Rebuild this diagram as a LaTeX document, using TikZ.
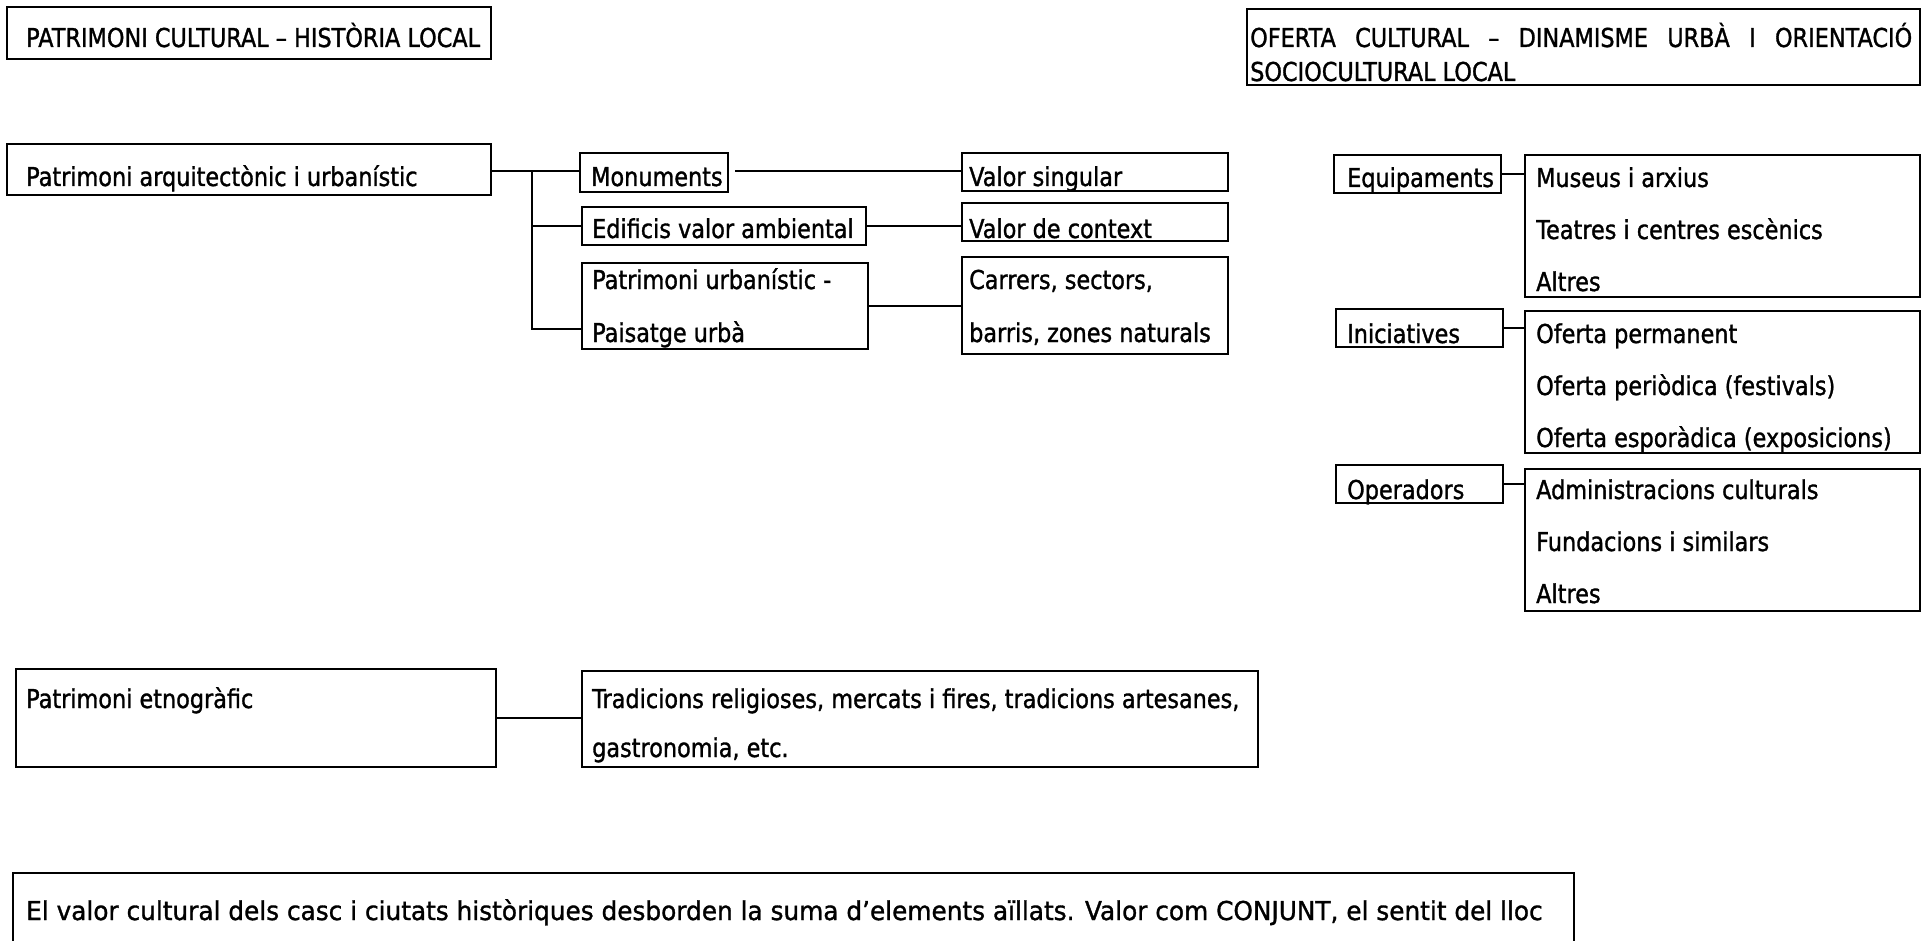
\documentclass[tikz,border=0pt]{standalone}
\usepackage{fontspec}
\setmainfont[FakeStretch=0.86,FakeBold=1.2]{DejaVu Sans}
\newfontfamily\widefont[FakeStretch=0.953,FakeBold=1.2]{DejaVu Sans}
\begin{document}
\begin{tikzpicture}[x=1pt,y=-1pt]
\tikzset{
 box/.style={draw, line width=2pt, inner sep=0pt, outer sep=0pt, anchor=north west},
 txt/.style={anchor=base west, inner sep=0pt, font=\fontsize{26pt}{30pt}\selectfont},
 link/.style={line width=2pt}
}
\newcommand\bx[5]{\node[box, minimum width={(#4-#2)*1pt}, minimum height={(#5-#3)*1pt}] (#1) at (#2,#3) {};}
\useasboundingbox (0,0) rectangle (1921,941);
\fill[white] (0,0) rectangle (1921,941);
% boxes
\bx{t1}{7}{7}{491}{59}
\bx{t2}{1247}{9}{1920}{85}
\bx{pa}{7}{144}{491}{195}
\bx{mon}{580}{153}{728}{192}
\bx{edi}{582}{207}{866}{245}
\bx{pu}{582}{263}{868}{349}
\bx{vs}{962}{153}{1228}{191}
\bx{vc}{962}{203}{1228}{241}
\bx{car}{962}{257}{1228}{354}
\bx{eq}{1334}{155}{1501}{193}
\bx{mus}{1525}{155}{1920}{297}
\bx{ini}{1336}{309}{1503}{347}
\bx{ofe}{1525}{311}{1920}{453}
\bx{ope}{1336}{465}{1503}{503}
\bx{adm}{1525}{469}{1920}{611}
\bx{etn}{16}{669}{496}{767}
\bx{tra}{582}{671}{1258}{767}
\bx{bot}{13}{873}{1574}{980}
% texts
\node[txt] (t1a) at (26,47) {PATRIMONI CULTURAL – HISTÒRIA LOCAL};
\node[txt] (t2a) at (1250,47) {\makebox[662pt][s]{OFERTA CULTURAL – DINAMISME URBÀ I ORIENTACIÓ}};
\node[txt] (t2b) at (1250,81) {SOCIOCULTURAL LOCAL};
\node[txt] (paa) at (26,186) {Patrimoni arquitectònic i urbanístic};
\node[txt] (mona) at (591,186) {Monuments};
\node[txt] (edia) at (592,238) {Edificis valor ambiental};
\node[txt] (pua) at (592,289) {Patrimoni urbanístic -};
\node[txt] (pub) at (592,342) {Paisatge urbà};
\node[txt] (vsa) at (969,186) {Valor singular};
\node[txt] (vca) at (969,238) {Valor de context};
\node[txt] (cara) at (969,289) {Carrers, sectors,};
\node[txt] (carb) at (969,342) {barris, zones naturals};
\node[txt] (eqa) at (1347,187) {Equipaments};
\node[txt] (musa) at (1536,187) {Museus i arxius};
\node[txt] (musb) at (1536,239) {Teatres i centres escènics};
\node[txt] (musc) at (1536,291) {Altres};
\node[txt] (inia) at (1347,343) {Iniciatives};
\node[txt] (ofea) at (1536,343) {Oferta permanent};
\node[txt] (ofeb) at (1536,395) {Oferta periòdica (festivals)};
\node[txt] (ofec) at (1536,447) {Oferta esporàdica (exposicions)};
\node[txt] (opea) at (1347,499) {Operadors};
\node[txt] (adma) at (1536,499) {Administracions culturals};
\node[txt] (admb) at (1536,551) {Fundacions i similars};
\node[txt] (admc) at (1536,603) {Altres};
\node[txt] (etna) at (26,708) {Patrimoni etnogràfic};
\node[txt] (traa) at (592,708) {Tradicions religioses, mercats i fires, tradicions artesanes,};
\node[txt] (trab) at (592,757) {gastronomia, etc.};
\node[txt] (bota) at (26,920) {\widefont El valor cultural dels casc i ciutats històriques desborden la suma d’elements aïllats. Valor com CONJUNT, el sentit del lloc};
% connectors
\coordinate (tr) at (532,171);
\coordinate (tb) at (532,329);
\draw[link] (pa.east |- tr) -- (tr -| mon.west);
\draw[link] (tr) -- (tb) -- (tb -| pu.west);
\draw[link] (tr |- edi.west) -- (edi.west);
\draw[link] ([xshift=7pt]mon.east |- tr) -- (tr -| vs.west);
\draw[link] (edi.east) -- (edi.east -| vc.west);
\draw[link] (pu.east) -- (pu.east -| car.west);
\draw[link] (eq.east) -- (eq.east -| mus.west);
\draw[link] (ini.east) -- (ini.east -| ofe.west);
\draw[link] (ope.east) -- (ope.east -| adm.west);
\draw[link] (etn.east) -- (etn.east -| tra.west);
\end{tikzpicture}
\end{document}
